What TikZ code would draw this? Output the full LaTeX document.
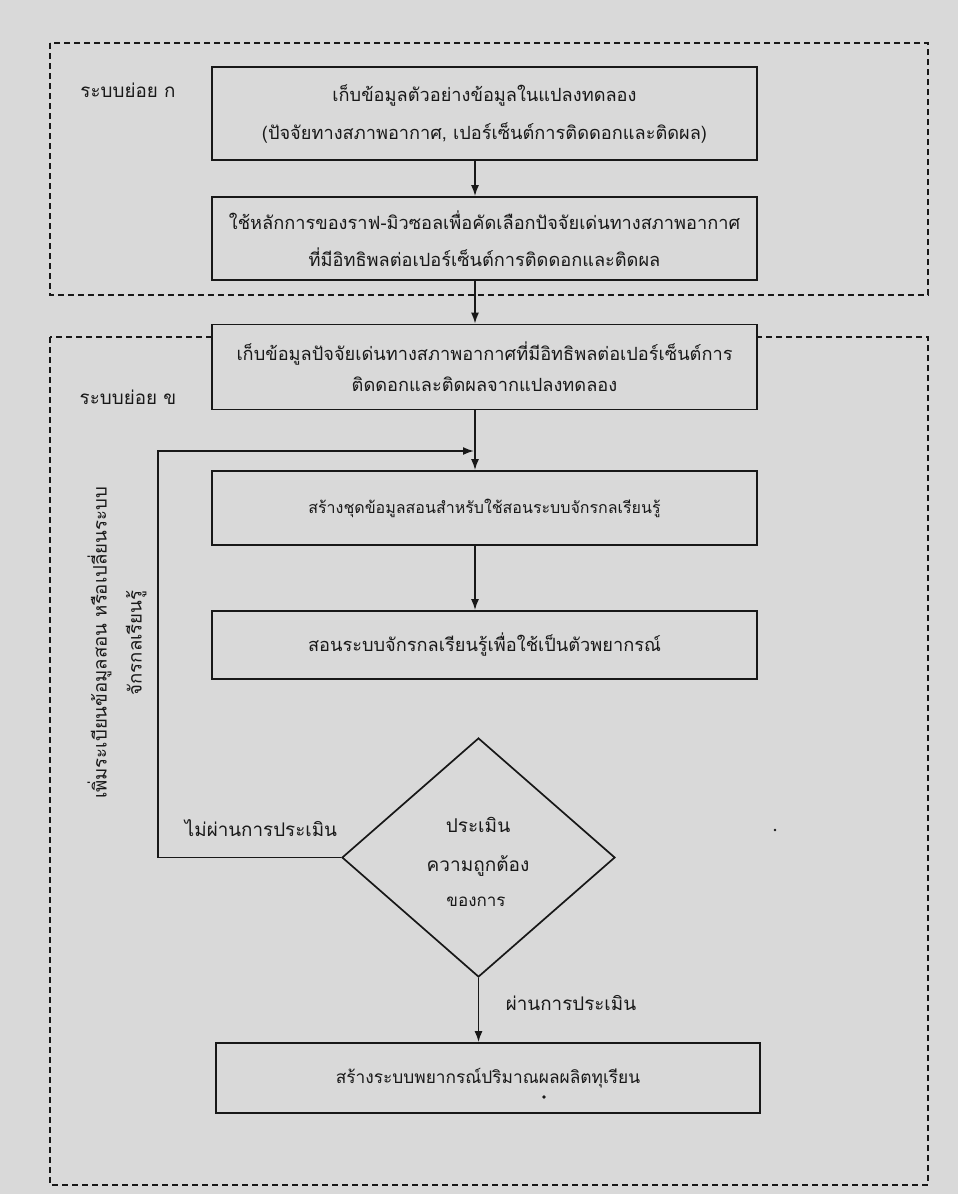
\documentclass[tikz,border=0pt]{standalone}
\usepackage{fontspec}
\newfontfamily\thaifont[Script=Thai]{Loma}
\usetikzlibrary{arrows.meta,shapes.geometric}
\definecolor{paper}{RGB}{217,217,217}
\definecolor{ink}{RGB}{24,24,24}
\newcommand{\thsize}[2]{\thaifont\fontsize{#1}{#2}\selectfont}
\begin{document}
\begin{tikzpicture}[x=1pt,y=-1pt,
  every node/.style={font=\thsize{18.8}{36}, text=ink},
  procbox/.style={draw=ink, line width=1.7pt, fill=paper, minimum width=545pt,
    align=center, inner sep=0pt, font=\thsize{18.2}{38}},
  frame/.style={draw=ink, line width=1.6pt, dash pattern=on 6pt off 4pt},
  flow/.style={draw=ink, line width=1.7pt, -{Latex[length=11pt,width=8pt]}},
]
% page
\fill[paper] (0,0) rectangle (958,1194);
\useasboundingbox (0,0) rectangle (958,1194);

% subsystem frames
\draw[frame] (50,43) rectangle (928,295);
\draw[frame] (50,337) rectangle (928,1185);
\node (subA) at (128,90) {ระบบย่อย ก};
\node (subB) at (128,397) {ระบบย่อย ข};

% column of the main flow
\coordinate (ax) at (475,0);

% process boxes
\node[procbox, minimum height=93pt] (b1) at (484.5,113.5)
  {เก็บข้อมูลตัวอย่างข้อมูลในแปลงทดลอง\\(ปัจจัยทางสภาพอากาศ, เปอร์เซ็นต์การติดดอกและติดผล)};
\node[procbox, minimum height=83pt, font=\thsize{18.2}{37}] (b2) at (484.5,238.5)
  {ใช้หลักการของราฟ-มิวซอลเพื่อคัดเลือกปัจจัยเด่นทางสภาพอากาศ\\ที่มีอิทธิพลต่อเปอร์เซ็นต์การติดดอกและติดผล};
\node[procbox, minimum height=85pt, font=\thsize{18.2}{31}] (b3) at (484.5,367)
  {เก็บข้อมูลปัจจัยเด่นทางสภาพอากาศที่มีอิทธิพลต่อเปอร์เซ็นต์การ\\ติดดอกและติดผลจากแปลงทดลอง};
\node[procbox, minimum height=74pt, font=\thsize{16}{30}] (b4) at (484.5,508)
  {สร้างชุดข้อมูลสอนสำหรับใช้สอนระบบจักรกลเรียนรู้};
\node[procbox, minimum height=68pt] (b5) at (484.5,645)
  {\raisebox{3pt}{สอนระบบจักรกลเรียนรู้เพื่อใช้เป็นตัวพยากรณ์}};
\node[draw=ink, line width=1.7pt, fill=paper, shape=diamond, inner sep=0pt,
  minimum width=273pt, minimum height=239pt] (dec) at (478.5,857.5) {};
\node[align=center, font=\thsize{19}{39}] (dectext) at (478,847)
  {ประเมิน\\ความถูกต้อง};
% last line of the decision text, only its lower part printed
\begin{scope}
  \clip (420,895) rectangle (540,915);
  \node[font=\thsize{17}{20}] (decrest) at (476,902) {ของการ};
\end{scope}
\node[procbox, minimum width=544pt, minimum height=70pt, font=\thsize{17.3}{30}] (b6) at (488,1078)
  {\raisebox{5pt}{สร้างระบบพยากรณ์ปริมาณผลผลิตทุเรียน}};
\fill[ink] (544,1097) circle (1.8pt);
\fill[ink] (775,830) circle (1.4pt);

% connectors
\draw[flow] (b1.south -| ax) -- (b2.north -| ax);
\draw[flow] (b2.south -| ax) -- (b3.north -| ax);
\draw[flow] (b3.south -| ax) -- (b4.north -| ax);
\draw[flow] (b4.south -| ax) -- (b5.north -| ax);
\draw[flow] (dec.south) -- (dec.south |- b6.north);

% feedback loop
\coordinate (fbcorner) at (158,451);
\coordinate (fbend) at (474,451);
\draw[flow] (dec.west) -| (fbcorner) -- (fbend);

% branch labels
\node (fail) at (261,828) {ไม่ผ่านการประเมิน};
\node (pass) at (571,1003) {ผ่านการประเมิน};
\node[rotate=90, align=center, font=\thsize{18.6}{35}] (vnote) at (117,643)
  {เพิ่มระเบียนข้อมูลสอน หรือเปลี่ยนระบบ\\จักรกลเรียนรู้};
\end{tikzpicture}
\end{document}
